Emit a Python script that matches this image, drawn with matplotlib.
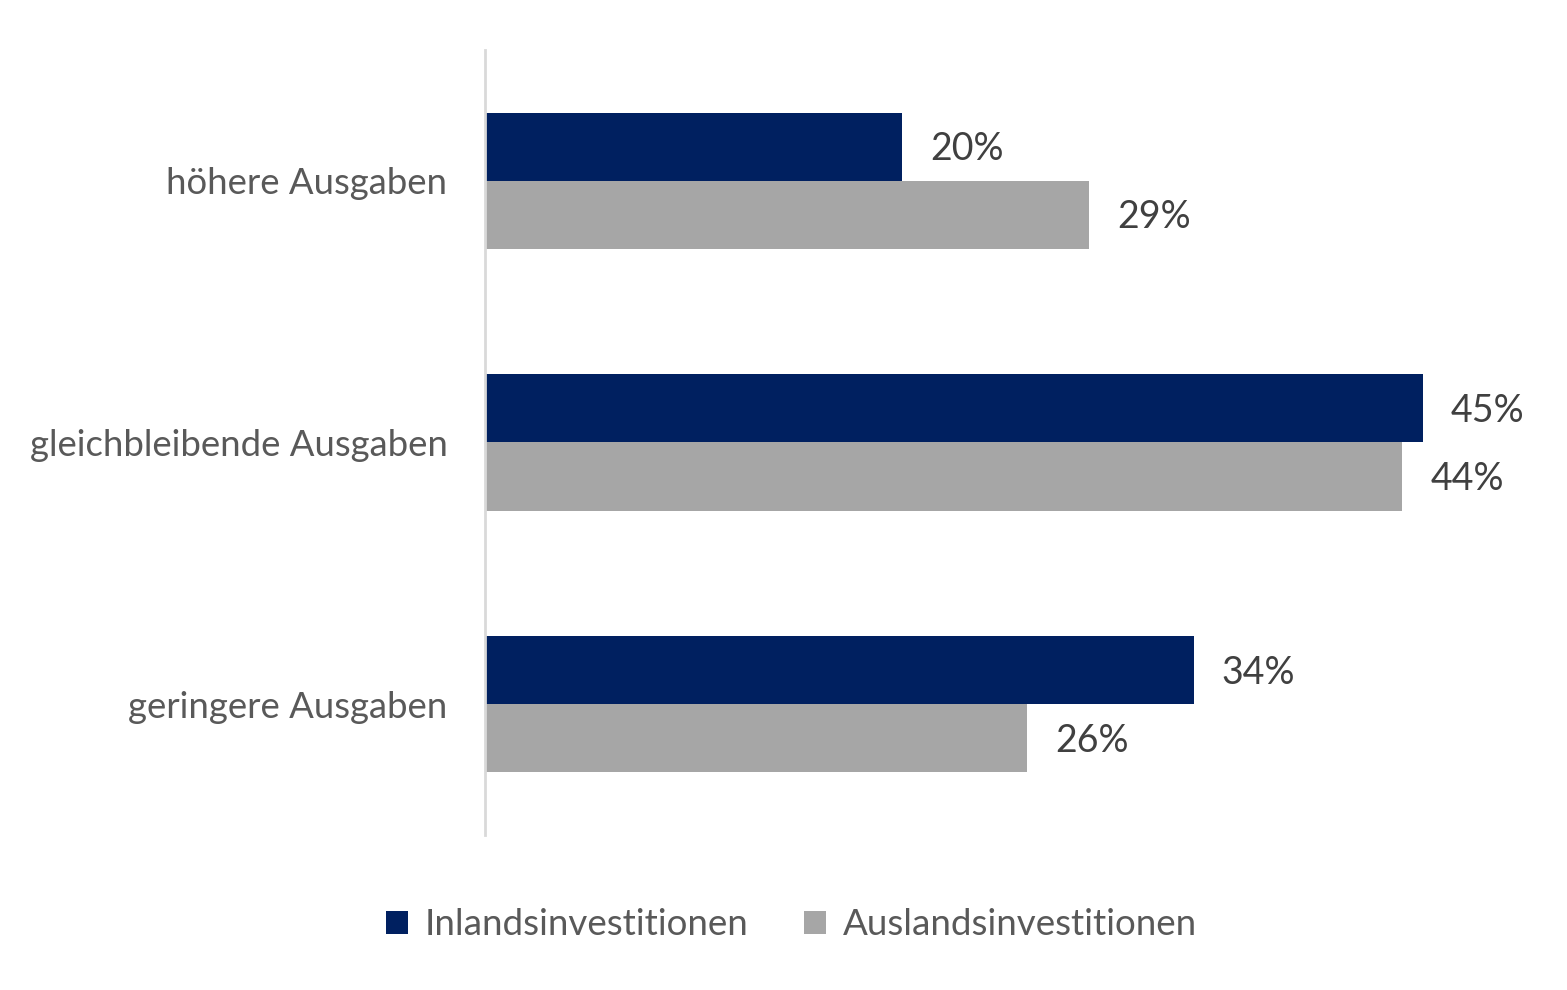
import matplotlib

matplotlib.use("Agg")

import matplotlib.pyplot as plt

categories = ["höhere Ausgaben", "gleichbleibende Ausgaben", "geringere Ausgaben"]
inland = [20, 45, 34]
ausland = [29, 44, 26]
series_names = ["Inlandsinvestitionen", "Auslandsinvestitionen"]

NAVY = "#002060"
GRAY = "#A6A6A6"

plt.rcParams["font.family"] = ["Lato", "DejaVu Sans"]

fig = plt.figure(figsize=(15.67, 9.9), dpi=100)
ax = fig.add_axes([0.3095, 0.1566, 0.665, 0.7929])

h = 0.26
ys = list(range(len(categories)))
ax.barh([y - h / 2 for y in ys], inland, height=h, color=NAVY, label=series_names[0])
ax.barh([y + h / 2 for y in ys], ausland, height=h, color=GRAY, label=series_names[1])

for y, v in zip(ys, inland):
    ax.text(v + 1.35, y - h / 2 + 0.01, f"{v}%", va="center", ha="left",
            fontsize=27, color="#404040")
for y, v in zip(ys, ausland):
    ax.text(v + 1.35, y + h / 2 + 0.01, f"{v}%", va="center", ha="left",
            fontsize=27, color="#404040")

ax.set_xlim(0, 50)
ax.set_ylim(2.5, -0.5)
ax.set_yticks(ys)
ax.set_yticklabels(categories, fontsize=26.3, color="#595959")
ax.tick_params(axis="y", length=0, pad=27)
ax.set_xticks([])

for side in ["top", "right", "bottom"]:
    ax.spines[side].set_visible(False)
ax.spines["left"].set_color("#D9D9D9")
ax.spines["left"].set_linewidth(2)

fig.legend(loc="center", bbox_to_anchor=(0.505, 0.066), ncol=2, frameon=False,
           fontsize=26.5, labelcolor="#595959", handlelength=0.6, handleheight=0.6,
           handletextpad=0.45, columnspacing=1.5)

fig.savefig("out.png", dpi=100)
